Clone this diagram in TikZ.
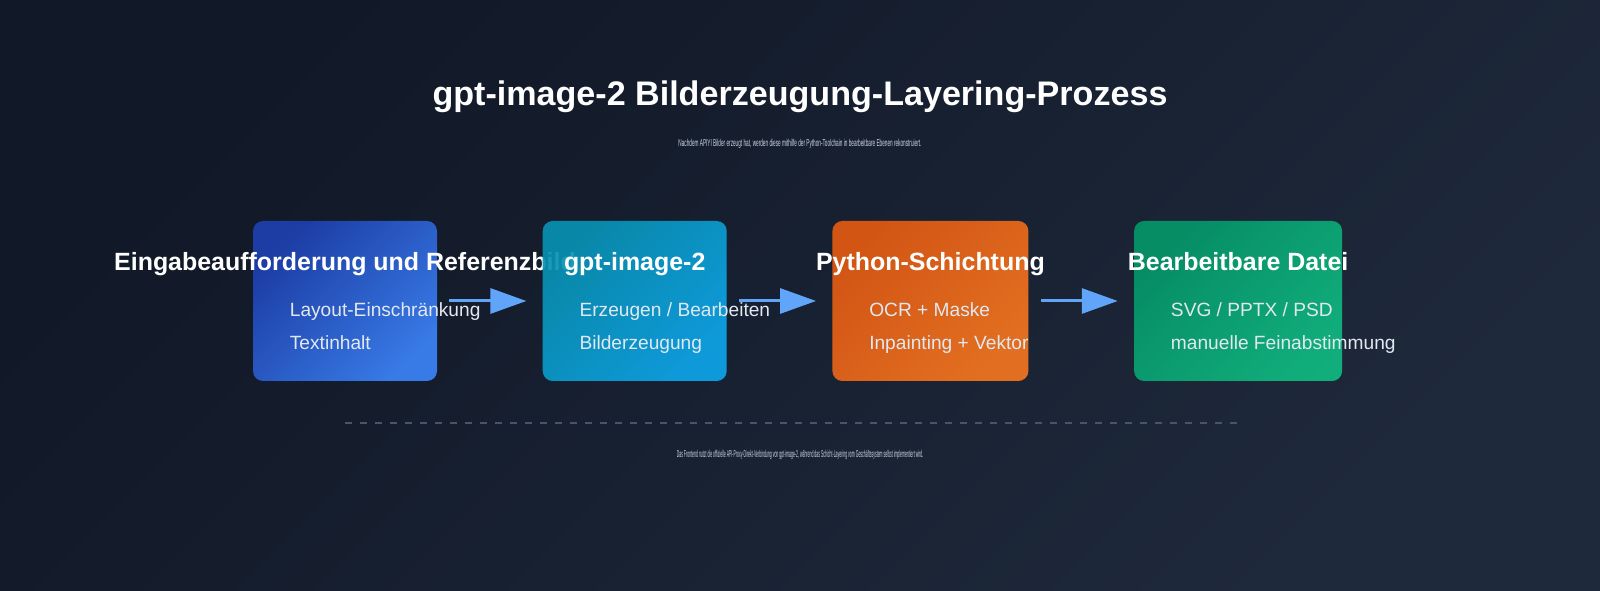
\documentclass[tikz,border=0pt]{standalone}
\usepackage{fontspec}
\setmainfont{Liberation Sans}
\usepackage{graphicx}
\usetikzlibrary{arrows.meta, positioning}

\definecolor{bgA}{HTML}{111827}
\definecolor{bgB}{HTML}{1E293B}
\definecolor{blueA}{HTML}{1E40AF}
\definecolor{blueB}{HTML}{3B82F6}
\definecolor{cyanA}{HTML}{0891B2}
\definecolor{cyanB}{HTML}{0EA5E9}
\definecolor{orangeA}{HTML}{E25A12}
\definecolor{orangeB}{HTML}{F47620}
\definecolor{greenA}{HTML}{059669}
\definecolor{greenB}{HTML}{10B981}
\definecolor{arrowblue}{HTML}{60A5FA}
\definecolor{itemgray}{HTML}{E2E8F0}
\definecolor{dashgray}{HTML}{475569}
\definecolor{notegray}{HTML}{CBD5E1}

\begin{document}
\begin{tikzpicture}[
  stage/.style={rounded corners=0.2cm, minimum height=3.2cm, inner sep=0pt, fill opacity=0.92},
  stagetitle/.style={text=white, text height=0.75em, text depth=0.25em, font=\fontsize{14.2}{16}\selectfont\bfseries},
  item/.style={anchor=west, text=itemgray, text height=0.75em, text depth=0.25em, font=\fontsize{10.9}{13}\selectfont},
  flow/.style={arrowblue, line width=0.06cm, -{Triangle[length=0.72cm, width=0.5cm]}, shorten <=0.24cm, shorten >=0.32cm},
  note/.style={text=notegray}
]
% Background
\shade[top color=bgA, bottom color=bgB, shading angle=45] (0,0) rectangle (32,11.8);
\useasboundingbox (0,0) rectangle (32,11.8);

% Heading
\node[text=white, font=\fontsize{19.4}{23}\selectfont\bfseries] (title) at (16,9.86) {gpt-image-2 Bilderzeugung-Layering-Prozess};
\node[note] (sub) at (16,8.92) {\scalebox{0.47}[1]{\fontsize{5.7}{7}\selectfont Nachdem APIYI Bilder erzeugt hat, werden diese mithilfe der Python-Toolchain in bearbeitbare Ebenen rekonstruiert.}};

% Stages
\node[stage, minimum width=3.68cm, top color=blueA, bottom color=blueB, shading angle=45] (input) at (6.9,5.78) {};
\node[stagetitle] at ([yshift=0.7cm]input.center) {Eingabeaufforderung und Referenzbild};
\node[item] at ([xshift=0.62cm, yshift=-0.22cm]input.west) {Layout-Einschränkung};
\node[item] at ([xshift=0.62cm, yshift=-0.88cm]input.west) {Textinhalt};

\node[stage, minimum width=3.68cm, top color=cyanA, bottom color=cyanB, shading angle=45, right=2.1cm of input] (gen) {};
\node[stagetitle] at ([yshift=0.7cm]gen.center) {gpt-image-2};
\node[item] at ([xshift=0.62cm, yshift=-0.22cm]gen.west) {Erzeugen / Bearbeiten};
\node[item] at ([xshift=0.62cm, yshift=-0.88cm]gen.west) {Bilderzeugung};

\node[stage, minimum width=3.92cm, top color=orangeA, bottom color=orangeB, shading angle=45, right=2.1cm of gen] (layer) {};
\node[stagetitle] at ([yshift=0.7cm]layer.center) {Python-Schichtung};
\node[item] at ([xshift=0.62cm, yshift=-0.22cm]layer.west) {OCR + Maske};
\node[item] at ([xshift=0.62cm, yshift=-0.88cm]layer.west) {Inpainting + Vektor};

\node[stage, minimum width=4.16cm, top color=greenA, bottom color=greenB, shading angle=45, right=2.1cm of layer] (file) {};
\node[stagetitle] at ([yshift=0.7cm]file.center) {Bearbeitbare Datei};
\node[item] at ([xshift=0.62cm, yshift=-0.22cm]file.west) {SVG / PPTX / PSD};
\node[item] at ([xshift=0.62cm, yshift=-0.88cm]file.west) {manuelle Feinabstimmung};

% Arrows
\draw[flow] (input) -- (gen);
\draw[flow] (gen) -- (layer);
\draw[flow] (layer) -- (file);

% Separator and footnote
\coordinate (sepL) at (6.9,3.34);
\coordinate (sepR) at (24.74,3.34);
\draw[dashgray, line width=0.03cm, dash pattern=on 0.14cm off 0.16cm] (sepL) -- (sepR);
\node[note] (foot) at (16,2.7) {\scalebox{0.35}[1]{\fontsize{5.7}{7}\selectfont Das Frontend nutzt die offizielle API-Proxy-Direkt-Verbindung von gpt-image-2, während das Schicht-Layering vom Geschäftssystem selbst implementiert wird.}};
\end{tikzpicture}
\end{document}
